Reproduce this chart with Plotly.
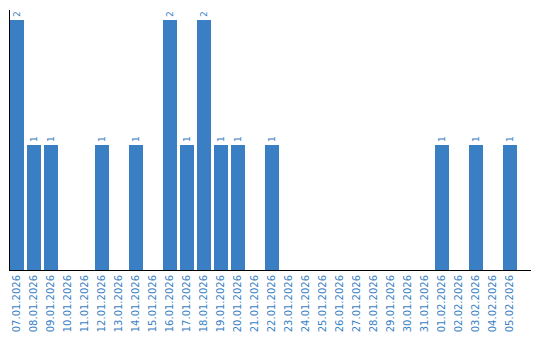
import plotly.graph_objects as go

dates = ["07.01.2026", "08.01.2026", "09.01.2026", "10.01.2026", "11.01.2026",
         "12.01.2026", "13.01.2026", "14.01.2026", "15.01.2026", "16.01.2026",
         "17.01.2026", "18.01.2026", "19.01.2026", "20.01.2026", "21.01.2026",
         "22.01.2026", "23.01.2026", "24.01.2026", "25.01.2026", "26.01.2026",
         "27.01.2026", "28.01.2026", "29.01.2026", "30.01.2026", "31.01.2026",
         "01.02.2026", "02.02.2026", "03.02.2026", "04.02.2026", "05.02.2026"]
counts = [2, 1, 1, 0, 0, 1, 0, 1, 0, 2, 1, 2, 1, 1, 0, 1, 0, 0, 0, 0,
          0, 0, 0, 0, 0, 1, 0, 1, 0, 1]

idx = list(range(len(dates)))
labels = [str(v) if v > 0 else "" for v in counts]
blue = "#3a7fc4"

fig = go.Figure(go.Bar(
    x=idx, y=counts, width=14/17, marker_color=blue, marker_line_width=0,
    text=labels, textposition="outside", textangle=-90, cliponaxis=False,
    textfont=dict(color=blue, size=9, family="DejaVu Sans"),
))
fig.update_layout(
    width=540, height=340, margin=dict(l=10, r=9, t=10, b=70),
    plot_bgcolor="white", paper_bgcolor="white", showlegend=False,
    xaxis=dict(range=[-7/17, -7/17 + 521/17], tickvals=idx, ticktext=dates,
               tickangle=-90, showgrid=False, showline=True, linecolor="black",
               linewidth=1, ticks="", zeroline=False,
               tickfont=dict(color=blue, size=10, family="DejaVu Sans")),
    yaxis=dict(range=[0, 2.08], showgrid=False, showline=True, linecolor="black",
               linewidth=1, showticklabels=False, ticks="", zeroline=False),
)
fig.write_html("out.html")
